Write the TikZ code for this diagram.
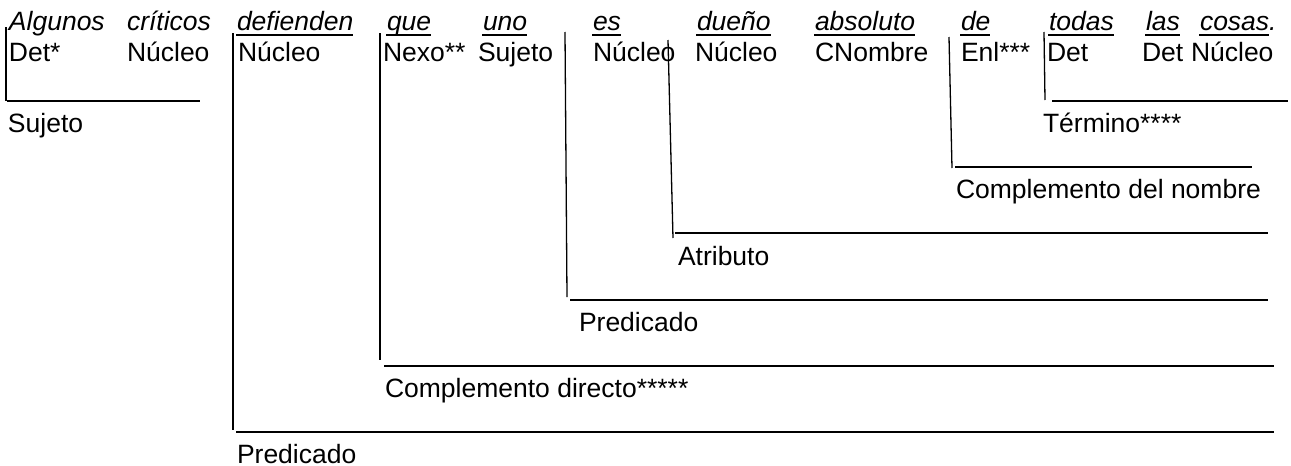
\documentclass[tikz,border=0pt]{standalone}
\usepackage{fontspec}
\setmainfont{Liberation Sans}
\usetikzlibrary{calc}
\begin{document}
\begin{tikzpicture}[x=1pt,y=-1pt,
  txt/.style={anchor=base west,inner sep=0pt,outer sep=0pt,font=\fontsize{26.5}{30}\selectfont},
  wrd/.style={txt,font=\fontsize{26.5}{30}\selectfont\itshape},
  vbar/.style={line width=1.3pt},
  hbar/.style={line width=1.5pt},
  uline/.style={line width=1.6pt}]
\useasboundingbox (0,0) rectangle (1291,466);
% sentence words
\node[wrd] (w1) at (9,30.5) {Algunos};
\node[wrd] (w2) at (127,30.5) {críticos};
\node[wrd] (w3) at (237,30.5) {defienden};
\node[wrd] (w4) at (387,30.5) {que};
\node[wrd] (w5) at (483,30.5) {uno};
\node[wrd] (w6) at (593,30.5) {es};
\node[wrd] (w7) at (697,30.5) {dueño};
\node[wrd] (w8) at (815,30.5) {absoluto};
\node[wrd] (w9) at (961,30.5) {de};
\node[wrd] (w10) at (1049,30.5) {todas};
\node[wrd] (w11) at (1146,30.5) {las};
\node[wrd] (w12) at (1200,30.5) {cosas};
\node[wrd] (dot) at (w12.base east) {.};
\foreach \n in {w3,w4,w5,w6,w7,w8,w9,w10,w11,w12}
  \draw[uline] ($(\n.base west)+(-1,4.5)$) -- ($(\n.base east)+(0,4.5)$);
% word functions
\node[txt] (f1) at (9,61) {Det*};
\node[txt] (f2) at (127,61) {Núcleo};
\node[txt] (f3) at (238,61) {Núcleo};
\node[txt] (f4) at (383,61) {Nexo**};
\node[txt] (f5) at (478,61) {Sujeto};
\node[txt] (f6) at (593,61) {Núcleo};
\node[txt] (f7) at (695,61) {Núcleo};
\node[txt] (f8) at (815,61) {CNombre};
\node[txt] (f9) at (961,61) {Enl***};
\node[txt] (f10) at (1047,61) {Det};
\node[txt] (f11) at (1142,61) {Det};
\node[txt] (f12) at (1191,61) {Núcleo};
% phrase labels
\node[txt] (suj) at (8,132) {Sujeto};
\node[txt] (ter) at (1043,132) {Término****};
\node[txt] (cn) at (956,198) {Complemento del nombre};
\node[txt] (atr) at (678,265) {Atributo};
\node[txt] (pred1) at (579,331) {Predicado};
\node[txt] (cd) at (385,397) {Complemento directo*****};
\node[txt] (pred2) at (237,463) {Predicado};
% bracket coordinates
\coordinate (sujT) at (6,27);   \coordinate (sujC) at (6,101);  \coordinate (sujS) at (7,101);  \coordinate (sujE) at (200,101);
\coordinate (terT) at (1044,32); \coordinate (terC) at (1045,100); \coordinate (terS) at (1052,101); \coordinate (terE) at (1288,101);
\coordinate (cnT) at (949,37);  \coordinate (cnC) at (952,168); \coordinate (cnS) at (955,167); \coordinate (cnE) at (1252,167);
\coordinate (atrT) at (668,40); \coordinate (atrC) at (673,238); \coordinate (atrS) at (675,233); \coordinate (atrE) at (1268,233);
\coordinate (p1T) at (565,32);  \coordinate (p1C) at (567,297); \coordinate (p1S) at (570,300); \coordinate (p1E) at (1268,300);
\coordinate (cdT) at (380,33);  \coordinate (cdC) at (380,360); \coordinate (cdS) at (384,366); \coordinate (cdE) at (1274,366);
\coordinate (p2T) at (233,33);  \coordinate (p2C) at (233,430); \coordinate (p2S) at (236,432); \coordinate (p2E) at (1274,432);
\foreach \b in {suj,ter,cn,atr,p1,cd,p2}{
  \draw[vbar] (\b T) -- (\b C);
  \draw[hbar] (\b S) -- (\b E);
}
\end{tikzpicture}
\end{document}
